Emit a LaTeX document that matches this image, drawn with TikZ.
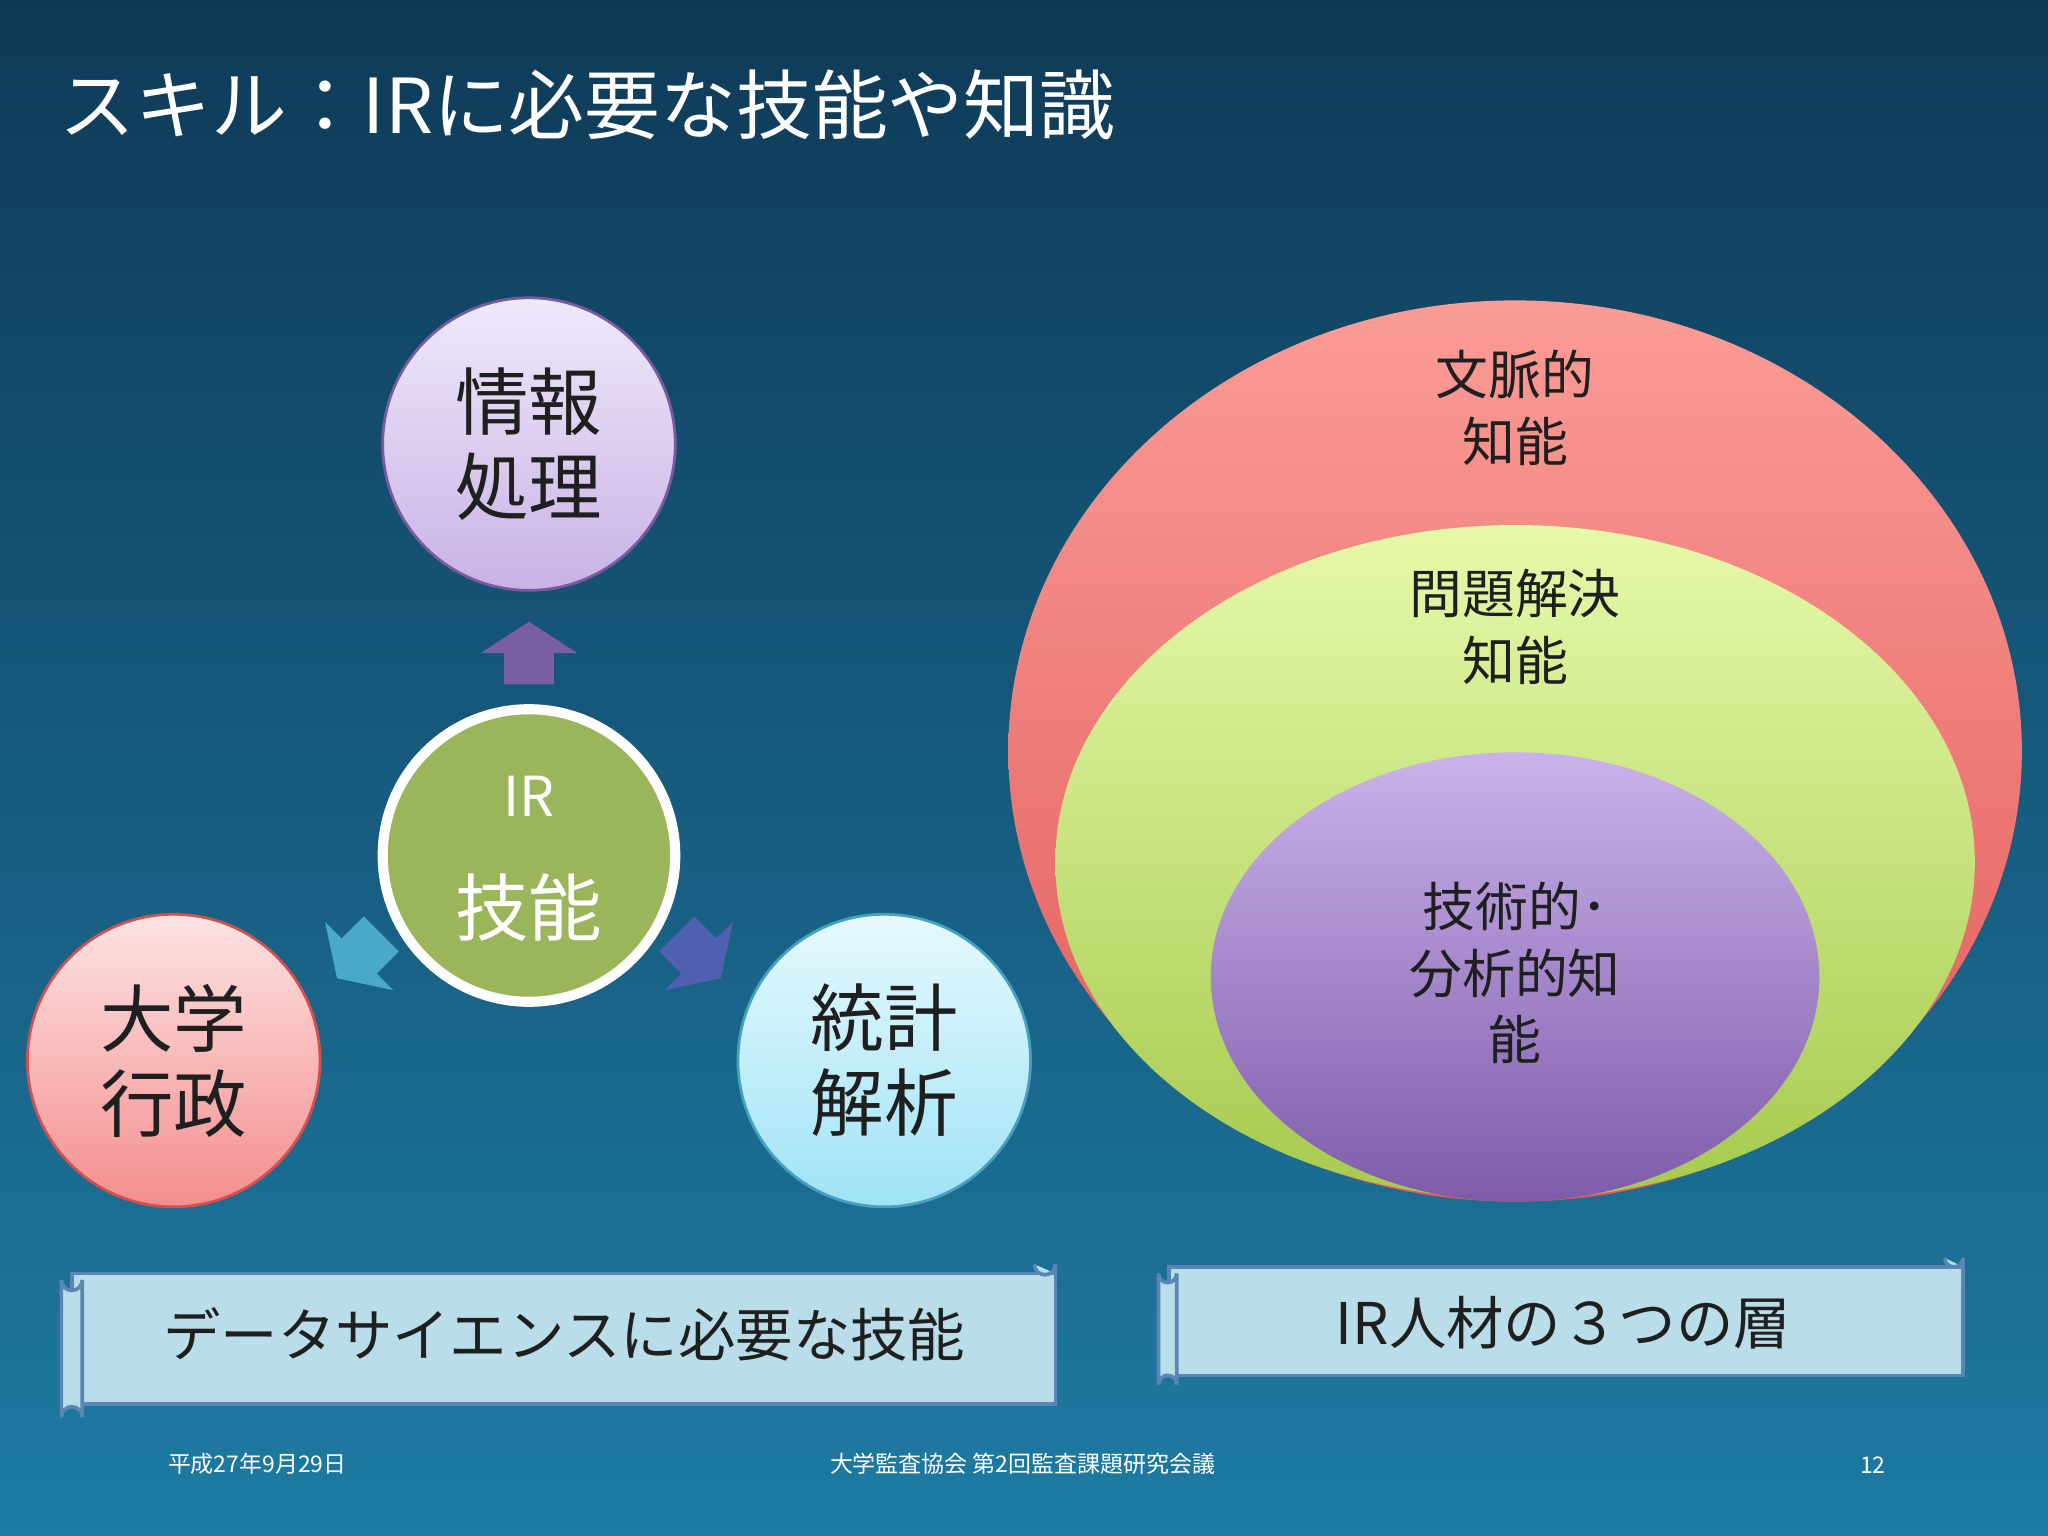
\documentclass[tikz,border=0pt]{standalone}
\usepackage{fontspec}
\setmainfont{Noto Sans CJK JP}
\definecolor{bgtop}{HTML}{0F3A57}
\definecolor{bgbot}{HTML}{1E7BA3}
\definecolor{scrollfill}{HTML}{B9DDE9}
\definecolor{scrolldraw}{HTML}{5A86B5}
\definecolor{lavtop}{HTML}{F0E9FA}\definecolor{lavbot}{HTML}{C8B2E6}\definecolor{lavline}{HTML}{7A5A9E}
\definecolor{pinktop}{HTML}{FDE3E3}\definecolor{pinkbot}{HTML}{F48E8E}\definecolor{pinkline}{HTML}{D25050}
\definecolor{cyantop}{HTML}{E6F9FD}\definecolor{cyanbot}{HTML}{9FE3F7}\definecolor{cyanline}{HTML}{46A0BE}
\definecolor{irgreen}{HTML}{9BB55A}
\definecolor{arup}{HTML}{7A5FA0}\definecolor{arleft}{HTML}{4AA8C8}\definecolor{arright}{HTML}{5060B0}
\definecolor{redtop}{HTML}{FB9C96}\definecolor{redbot}{HTML}{E05A5A}
\definecolor{grntop}{HTML}{E6F9AA}\definecolor{grnbot}{HTML}{A6CA4E}
\definecolor{purtop}{HTML}{CAB2EA}\definecolor{purbot}{HTML}{7E5CAA}
\tikzset{
  circtext/.style={font=\fontsize{16}{18.5}\selectfont, text=black!88, align=center},
  elltext/.style={font=\fontsize{11.5}{14.5}\selectfont, text=black!88, align=center},
  scroll/.style={fill=scrollfill, draw=scrolldraw, line width=0.8pt},
  foot/.style={font=\fontsize{5}{6}\selectfont, text=white}
}
\newcommand{\blockarrow}[2]{\fill[#1] (-19,24) -- (19,24) -- (19,0) -- (37,0) -- (0,-24) -- (-37,0) -- (-19,0) -- cycle;}
\begin{document}
\begin{tikzpicture}[x=0.01cm,y=-0.01cm]
\useasboundingbox (0,0) rectangle (1568,1176);
\shade[top color=bgtop, bottom color=bgbot] (0,0) rectangle (1568,1176);
\node[anchor=west, inner sep=0pt, text=white, font=\fontsize{16.5}{20}\selectfont] (title) at (45,80) {スキル：IRに必要な技能や知識};
% circles
\shade[top color=lavtop, bottom color=lavbot] (405,340) circle[radius=112];
\draw[lavline, line width=0.6pt] (405,340) circle[radius=112];
\node[circtext] (joho) at (405,340) {情報\\処理};
\fill[irgreen] (405,655) circle[radius=112];
\draw[white, line width=2.2pt] (405,655) circle[radius=112];
\node[text=white, font=\fontsize{12}{14}\selectfont] (ir) at (405,610) {IR};
\node[text=white, font=\fontsize{16}{20}\selectfont] (gino) at (405,695) {技能};
\shade[top color=pinktop, bottom color=pinkbot] (133,812) circle[radius=112];
\draw[pinkline, line width=0.6pt] (133,812) circle[radius=112];
\node[circtext] (daigaku) at (133,812) {大学\\行政};
\shade[top color=cyantop, bottom color=cyanbot] (677,812) circle[radius=112];
\draw[cyanline, line width=0.6pt] (677,812) circle[radius=112];
\node[circtext] (tokei) at (677,812) {統計\\解析};
% arrows
\begin{scope}[shift={(405,500)}]\blockarrow{arup}{}\end{scope}
\begin{scope}[shift={(275,732)}, rotate=135]\blockarrow{arleft}{}\end{scope}
\begin{scope}[shift={(535,732)}, rotate=-135]\blockarrow{arright}{}\end{scope}
% ellipses
\shade[top color=redtop, bottom color=redbot] (1160,575) ellipse[x radius=388, y radius=345];
\shade[top color=grntop, bottom color=grnbot] (1160,660) ellipse[x radius=352, y radius=258];
\shade[top color=purtop, bottom color=purbot] (1160,748) ellipse[x radius=233, y radius=172];
\node[elltext] (bunmyaku) at (1160,312) {文脈的\\知能};
\node[elltext] (mondai) at (1160,480) {問題解決\\知能};
\node[elltext] (gijutsu) at (1160,745) {技術的･\\分析的知\\能};
% scrolls
\draw[scroll] (55,975) rectangle (808,1075);
\draw[scroll] (47,980) -- (47,1085) arc[start angle=180, end angle=360, radius=8] -- (63,980) arc[start angle=0,end angle=180,radius=8];
\draw[scroll] (792,968) arc[start angle=180,end angle=0,radius=8] -- (808,975);
\node[font=\fontsize{12.5}{15}\selectfont, text=black!88] (ds) at (432,1022) {データサイエンスに必要な技能};
\draw[scroll] (895,970) rectangle (1503,1053);
\draw[scroll] (887,975) -- (887,1060) arc[start angle=180, end angle=360, radius=7] -- (901,975) arc[start angle=0,end angle=180,radius=7];
\draw[scroll] (1489,963) arc[start angle=180,end angle=0,radius=7] -- (1503,970);
\node[font=\fontsize{12.5}{15}\selectfont, text=black!88] (irj) at (1197,1013) {IR人材の３つの層};
% footer
\node[foot] (date) at (197,1121) {平成27年9月29日};
\node[foot] (conf) at (783,1121) {大学監査協会 第2回監査課題研究会議};
\node[foot] (page) at (1434,1122) {12};
\end{tikzpicture}
\end{document}
